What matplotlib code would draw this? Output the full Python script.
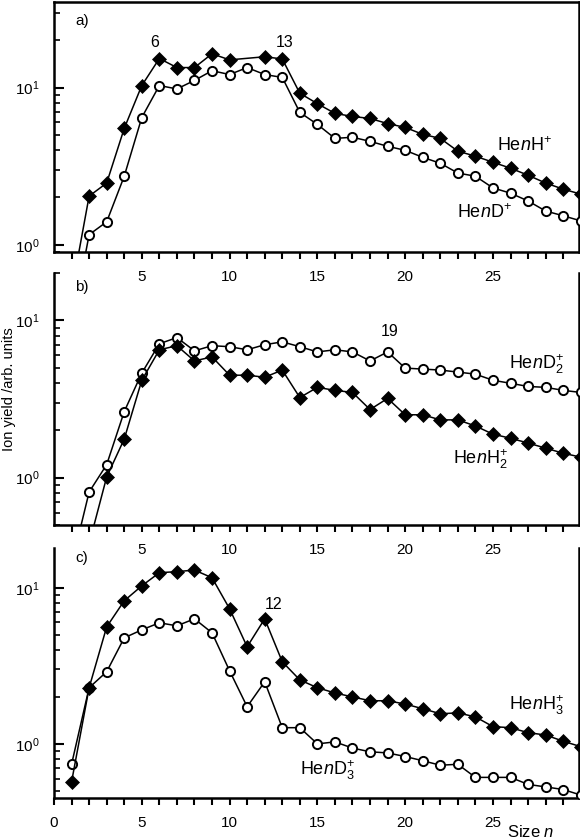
import numpy as np
import matplotlib
matplotlib.use('Agg')
import matplotlib.pyplot as plt
from matplotlib.ticker import LogLocator, FixedLocator, NullFormatter

plt.rcParams['font.family'] = ['Liberation Sans', 'DejaVu Sans']
plt.rcParams['mathtext.fontset'] = 'custom'
plt.rcParams['mathtext.rm'] = 'Liberation Sans'
plt.rcParams['mathtext.it'] = 'Liberation Sans:italic'
plt.rcParams['mathtext.bf'] = 'Liberation Sans:bold'

# ---------------- data ----------------
# panel a
a_h_n = list(range(1, 11)) + list(range(12, 31))
a_h = [0.5, 2.04, 2.47, 5.5, 10.3, 15.3, 13.4, 13.4, 16.4, 15.0,
       15.7, 15.2, 9.2, 7.9, 6.85, 6.55, 6.36, 5.9, 5.58, 5.04, 4.75, 3.94,
       3.66, 3.35, 3.07, 2.77, 2.47, 2.26, 2.1]
a_d_n = list(range(1, 31))
a_d = [0.3, 1.16, 1.40, 2.73, 6.45, 10.3, 9.8, 11.1, 12.8, 12.1, 13.4, 12.1,
       11.6, 6.95, 5.83, 4.75, 4.83, 4.55, 4.23, 3.99, 3.6, 3.30, 2.86, 2.73,
       2.3, 2.13, 1.9, 1.64, 1.53, 1.42]
# panel b
b_d_n = list(range(1, 31))
b_d = [0.28, 0.81, 1.21, 2.63, 4.62, 7.1, 7.77, 6.4, 6.9, 6.8, 6.5, 7.0, 7.3,
       6.8, 6.3, 6.5, 6.3, 5.52, 6.3, 4.97, 4.9, 4.83, 4.69, 4.55, 4.16, 3.98,
       3.8, 3.75, 3.59, 3.48]
b_h_n = list(range(2, 31))
b_h = [0.38, 1.01, 1.76, 4.16, 6.5, 6.9, 5.52, 5.86, 4.48, 4.48, 4.35, 4.83,
       3.23, 3.75, 3.59, 3.48, 2.71, 3.19, 2.51, 2.51, 2.33, 2.33, 2.13, 1.89,
       1.78, 1.66, 1.54, 1.43, 1.35]
# panel c
c_h_n = list(range(1, 31))
c_h = [0.57, 2.29, 5.62, 8.26, 10.3, 12.5, 12.7, 13.0, 11.6, 7.34, 4.19, 6.33,
       3.36, 2.57, 2.29, 2.12, 2.0, 1.89, 1.89, 1.80, 1.68, 1.56, 1.58, 1.49,
       1.29, 1.27, 1.18, 1.14, 1.04, 0.96]
c_d_n = list(range(1, 31))
c_d = [0.74, 2.29, 2.9, 4.78, 5.38, 5.97, 5.71, 6.33, 5.15, 2.94, 1.73, 2.5,
       1.27, 1.27, 1.0, 1.03, 0.94, 0.89, 0.875, 0.83, 0.78, 0.73, 0.74, 0.61,
       0.61, 0.61, 0.55, 0.53, 0.51, 0.47]

panel_tags = ['a)', 'b)', 'c)']
labels_h = [r'He$\mathit{n}$H$^{+}$', r'He$\mathit{n}$H$_{2}^{+}$', r'He$\mathit{n}$H$_{3}^{+}$']
labels_d = [r'He$\mathit{n}$D$^{+}$', r'He$\mathit{n}$D$_{2}^{+}$', r'He$\mathit{n}$D$_{3}^{+}$']
ylims = [(0.9, 35), (0.5, 20), (0.45, 18)]

fig = plt.figure(figsize=(5.8, 8.4), dpi=100)
W, H = 580.0, 840.0
left = 54 / W
width = (579 - 54) / W
boxes = [(2, 252), (273, 525), (548, 798)]
axes = []
for (t, b) in boxes:
    ax = fig.add_axes([left, (H - b) / H, width, (b - t) / H])
    ax.set_facecolor('none')
    axes.append(ax)

series = [((a_h_n, a_h), (a_d_n, a_d)),
          ((b_h_n, b_h), (b_d_n, b_d)),
          ((c_h_n, c_h), (c_d_n, c_d))]

for i, ax in enumerate(axes):
    (hn, hv), (dn, dv) = series[i]
    ax.plot(dn, dv, '-', color='black', lw=1.1, marker='o', ms=6.6,
            mfc='white', mec='black', mew=1.4, zorder=3)
    ax.plot(hn, hv, '-', color='black', lw=1.1, marker='D', ms=6.8,
            mfc='black', mec='black', mew=0.5, zorder=4)
    ax.set_yscale('log')
    ax.set_ylim(*ylims[i])
    ax.set_xlim(0, 29.9)
    ax.yaxis.set_major_locator(LogLocator(base=10, numticks=10))
    ax.yaxis.set_minor_locator(LogLocator(base=10, subs=np.arange(2, 10), numticks=10))
    ax.yaxis.set_minor_formatter(NullFormatter())
    if i == 2:
        ax.xaxis.set_major_locator(FixedLocator([0, 5, 10, 15, 20, 25]))
    else:
        ax.xaxis.set_major_locator(FixedLocator([5, 10, 15, 20, 25]))
    ax.xaxis.set_minor_locator(FixedLocator(list(range(1, 30))))
    ax.tick_params(axis='x', which='both', direction='out', length=5, width=1.5,
                   labelsize=11, pad=8)
    ax.tick_params(axis='y', which='major', direction='in', length=7, width=1.5,
                   labelsize=11, pad=10.5)
    ax.tick_params(axis='y', which='minor', direction='in', length=4, width=1.2)
    ax.tick_params(axis='both', which='both', top=False, right=False)
    for s in ['left', 'bottom', 'right']:
        ax.spines[s].set_linewidth(1.8)
    if i == 0:
        ax.spines['top'].set_linewidth(1.8)
    else:
        ax.spines['top'].set_visible(False)
    ax.text(0.053, [0.924, 0.944, 0.96][i], panel_tags[i], transform=ax.transAxes,
            ha='center', va='center', fontsize=11)

# species labels
axes[0].text(26.8, 4.3, labels_h[0], ha='center', va='center', fontsize=13)
axes[0].text(24.5, 1.59, labels_d[0], ha='center', va='center', fontsize=13)
axes[1].text(27.5, 5.28, labels_d[1], ha='center', va='center', fontsize=13)
axes[1].text(24.3, 1.31, labels_h[1], ha='center', va='center', fontsize=13)
axes[2].text(27.5, 1.78, labels_h[2], ha='center', va='center', fontsize=13)
axes[2].text(15.6, 0.68, labels_d[2], ha='center', va='center', fontsize=13)

# peak annotations
axes[0].text(5.75, 19.3, '6', ha='center', va='center', fontsize=11.5)
axes[0].text(13.15, 19.3, '13', ha='center', va='center', fontsize=11.5)
axes[1].text(19.1, 8.5, '19', ha='center', va='center', fontsize=11.5)
axes[2].text(12.5, 7.8, '12', ha='center', va='center', fontsize=11.5)

fig.text(9 / W, (H - 389) / H, 'Ion yield /arb. units', rotation=90,
         ha='center', va='center', fontsize=10.5)
fig.text(531 / W, (H - 832) / H, r'Size $\mathit{n}$', ha='center', va='center',
         fontsize=12)

fig.savefig('out.png', dpi=100)
